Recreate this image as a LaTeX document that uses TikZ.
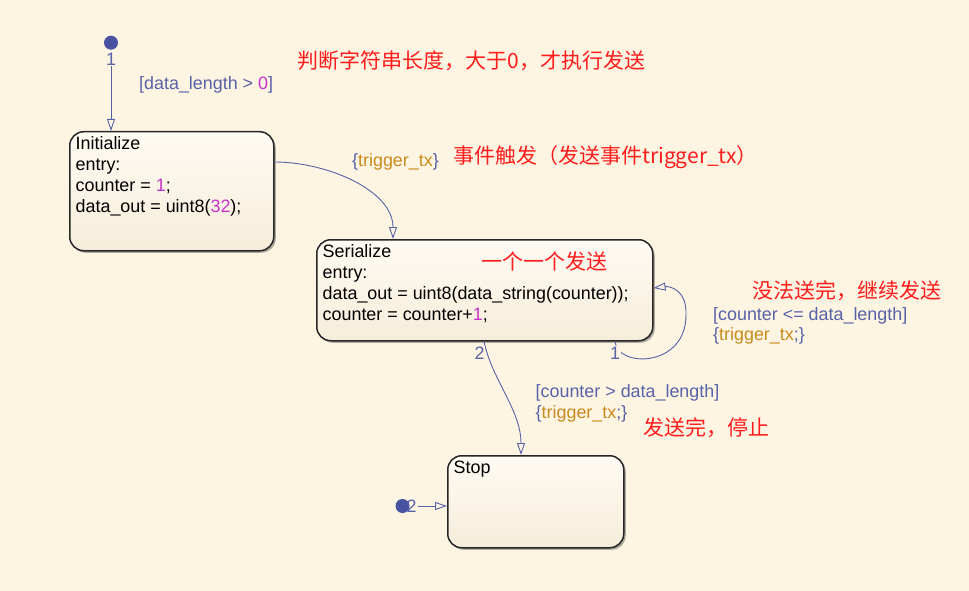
\documentclass[tikz,border=0pt]{standalone}
\usepackage{fontspec}
\setmainfont{Liberation Sans}
\newfontfamily\cjk{Noto Sans CJK SC}
\usetikzlibrary{arrows.meta,shadows}
\definecolor{bgc}{RGB}{253,244,226}
\definecolor{tblue}{RGB}{88,98,168}
\definecolor{dotc}{RGB}{72,82,160}
\definecolor{gold}{RGB}{200,138,30}
\definecolor{mag}{RGB}{200,50,200}
\definecolor{redn}{RGB}{255,28,28}
\definecolor{stTop}{RGB}{255,251,243}
\definecolor{stBot}{RGB}{246,237,218}
\begin{document}
\begin{tikzpicture}[x=1pt,y=-1pt,
  statebox/.style={draw=black!85, line width=1.5pt, rounded corners=14pt, anchor=north west, inner sep=0pt,
    top color=stTop, bottom color=stBot,
    drop shadow={shadow xshift=2pt,shadow yshift=-2pt,opacity=0.3,fill=black}},
  statetext/.style={anchor=north west, inner sep=0pt, align=left, font=\fontsize{17.9}{21}\selectfont},
  tlabel/.style={anchor=base west, inner sep=0pt, text=tblue, font=\fontsize{17.9}{21}\selectfont},
  numlbl/.style={text=tblue, inner sep=1pt, font=\fontsize{17.9}{21}\selectfont},
  dotnode/.style={circle, fill=dotc, minimum size=14pt, inner sep=0pt},
  trans/.style={draw=tblue, line width=0.9pt, -{Triangle[open,length=12pt,width=8pt]}},
  note/.style={anchor=west, inner sep=0pt, text=redn, font=\cjk\fontsize{21}{25}\selectfont}]
\useasboundingbox (0,0) rectangle (969,591);
\fill[bgc] (0,0) rectangle (969,591);

% states
\node[statebox, minimum width=204pt, minimum height=119pt] (init) at (69,131) {};
\node[statebox, minimum width=336pt, minimum height=101pt] (ser) at (316,239) {};
\node[statebox, minimum width=176pt, minimum height=92pt] (stop) at (447,455) {};

\node[statetext] (initTxt) at (75.5,136.3) {Initialize\\entry:\\counter = \textcolor{mag}{1};\\data\_out = uint8(\textcolor{mag}{32});};
\node[statetext] (serTxt) at (322.5,244.3) {Serialize\\entry:\\data\_out = uint8(data\_string(counter));\\counter = counter+\textcolor{mag}{1};};
\node[statetext] (stopTxt) at (453.5,460.6) {Stop};

% default transition to Initialize
\node[dotnode] (d1) at (111,42.7) {};
\node[numlbl] (d1n) at (111,59) {1};
\draw[trans] (d1n.south) -- (d1 |- init.north);
\node[tlabel] (g1) at (139,90) {[data\_length > \textcolor{mag}{0}]};

% Initialize -> Serialize
\draw[trans] ([yshift=-31pt]init.north east) .. controls +(52,0) and +(0,-49) .. ([xshift=77pt]ser.north west);
\node[tlabel] (g2) at (352,166.5) {\{\textcolor{gold}{trigger\_tx}\}};

% Serialize -> Stop
\draw[trans] ([xshift=168pt]ser.south west) .. controls (492,380) and (521,410) .. ([xshift=74pt]stop.north west);
\node[numlbl, fill=bgc] (s2n) at (479.5,353) {2};
\node[tlabel] (g3a) at (535.5,397) {[counter > data\_length]};
\node[tlabel] (g3b) at (535.5,418) {\{\textcolor{gold}{trigger\_tx};\}};

% Serialize self loop
\draw[trans] ([xshift=299pt]ser.south west) .. controls (617,368) and (686,368) .. (686,315) .. controls (687,290) and (670,286) .. ([yshift=-49pt]ser.north east);
\node[numlbl, fill=bgc] (s1n) at (615,353) {1};
\node[tlabel] (g4a) at (713,320) {[counter <= data\_length]};
\node[tlabel] (g4b) at (713,340) {\{\textcolor{gold}{trigger\_tx};\}};

% default transition to Stop
\node[dotnode] (d2) at (402.5,506) {};
\node[numlbl] (d2n) at (411.5,506) {2};
\draw[trans] (d2n.east) -- (d2 -| stop.west);

% notes
\node[note] (n1) at (297.5,60.5) {判断字符串长度，大于0，才执行发送};
\node[note] (n2) at (453,156.7) {事件触发（发送事件trigger\_tx）};
\node[note] (n3) at (481,261.7) {一个一个发送};
\node[note] (n4) at (752,291) {没法送完，继续发送};
\node[note] (n5) at (643.5,427.3) {发送完，停止};
\end{tikzpicture}
\end{document}
